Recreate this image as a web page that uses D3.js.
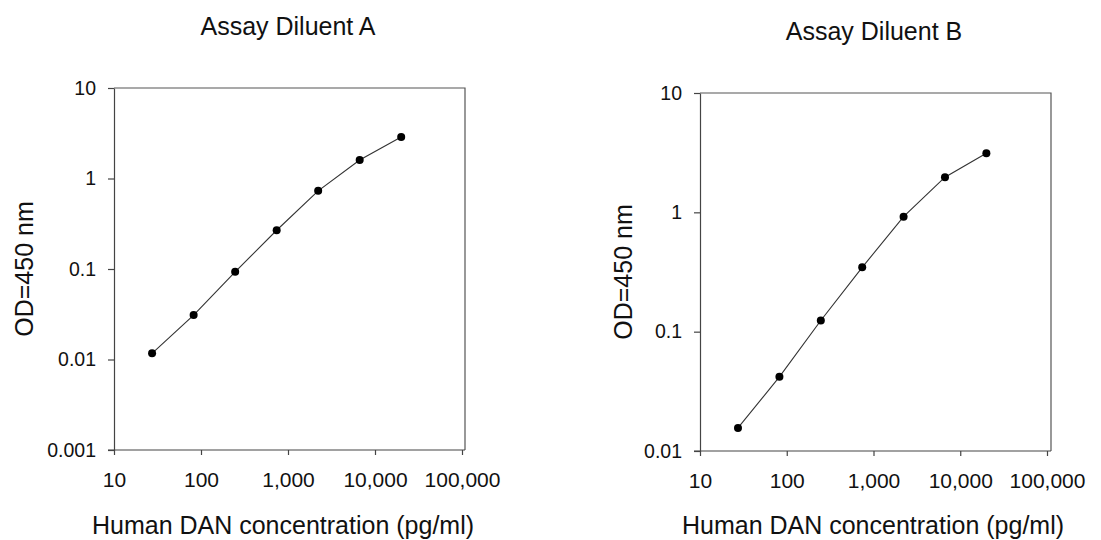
<!DOCTYPE html>
<html>
<head>
<meta charset="utf-8">
<script src="https://cdn.jsdelivr.net/npm/d3@7"></script>
<style>
    body { margin: 0; background: #fff; }
    text { font-family: "Liberation Sans", Arial, sans-serif; fill: #111; }
</style>
</head>
<body>
<div id="chart"></div>
<script>
// concentrations (pg/ml), 3-fold dilution series
var concentrations = [27.4, 82.3, 247, 741, 2222, 6667, 20000];
// OD at 450 nm for each diluent
var odDiluentA = [0.0117, 0.031, 0.093, 0.268, 0.73, 1.6, 2.87];
var odDiluentB = [0.0156, 0.0418, 0.124, 0.346, 0.92, 1.97, 3.13];

var xTickValues = [10, 100, 1000, 10000, 100000];
var xTickLabels = ["10", "100", "1,000", "10,000", "100,000"];
var yTickValuesA = [0.001, 0.01, 0.1, 1, 10];
var yTickValuesB = [0.01, 0.1, 1, 10];

var panels = [
    {title: "Assay Diluent A", values: odDiluentA, yTicks: yTickValuesA,
        left: 114, right: 462, frameRight: 465, top: 88, bottom: 450,
        titleX: 288, titleY: 35, yTitleX: 33, xTitleX: 283},
    {title: "Assay Diluent B", values: odDiluentB, yTicks: yTickValuesB,
        left: 700, right: 1047, frameRight: 1051, top: 93, bottom: 451,
        titleX: 874, titleY: 40, yTitleX: 632, xTitleX: 873}
];

var svg = d3.select("#chart").append("svg")
        .attr("width", 1101)
        .attr("height", 540);

panels.forEach(function (p) {
    var x = d3.scaleLog()
            .domain([10, 100000])
            .range([p.left, p.right]);

    var y = d3.scaleLog()
            .domain([p.yTicks[0], p.yTicks[p.yTicks.length - 1]])
            .range([p.bottom, p.top]);

    var g = svg.append("g");

    // plot area border (top and right)
    g.append("path")
            .attr("d", "M" + p.left + "," + p.top + "H" + p.frameRight + "V" + p.bottom)
            .attr("fill", "none")
            .attr("stroke", "#555")
            .attr("stroke-width", 1.2);

    // x axis
    var xAxis = d3.axisBottom(x)
            .tickValues(xTickValues)
            .tickSizeInner(5)
            .tickSizeOuter(0)
            .tickPadding(17)
            .tickFormat(function (d, i) { return xTickLabels[i]; });

    var gx = g.append("g")
            .attr("transform", "translate(0," + p.bottom + ")")
            .call(xAxis);
    gx.select(".domain").attr("d", "M" + (p.left - 6) + ",0H" + p.frameRight);

    // y axis
    var yAxis = d3.axisLeft(y)
            .tickValues(p.yTicks)
            .tickSizeInner(6)
            .tickSizeOuter(0)
            .tickPadding(12)
            .tickFormat(function (d) { return String(d); });

    var gy = g.append("g")
            .attr("transform", "translate(" + p.left + ",0)")
            .call(yAxis);

    g.selectAll(".domain, .tick line")
            .attr("stroke", "#444")
            .attr("stroke-width", 1.2);
    gx.selectAll("text").style("font-size", "21px").attr("fill", "#111");
    gy.selectAll("text").style("font-size", "19.5px").attr("fill", "#111");

    // data line and points
    var line = d3.line()
            .x(function (d, i) { return x(concentrations[i]); })
            .y(function (d) { return y(d); });

    g.append("path")
            .datum(p.values)
            .attr("d", line)
            .attr("fill", "none")
            .attr("stroke", "#333")
            .attr("stroke-width", 1.1);

    g.selectAll("circle")
            .data(p.values)
            .enter().append("circle")
            .attr("cx", function (d, i) { return x(concentrations[i]); })
            .attr("cy", function (d) { return y(d); })
            .attr("r", 4)
            .attr("fill", "#000");

    // titles
    g.append("text")
            .attr("x", p.titleX)
            .attr("y", p.titleY)
            .attr("text-anchor", "middle")
            .style("font-size", "25px")
            .text(p.title);

    g.append("text")
            .attr("transform", "translate(" + p.yTitleX + "," + ((p.top + p.bottom) / 2) + ") rotate(-90)")
            .attr("text-anchor", "middle")
            .style("font-size", "25px")
            .text("OD=450 nm");

    g.append("text")
            .attr("x", p.xTitleX)
            .attr("y", 534)
            .attr("text-anchor", "middle")
            .style("font-size", "25px")
            .text("Human DAN concentration (pg/ml)");
});
</script>
</body>
</html>
